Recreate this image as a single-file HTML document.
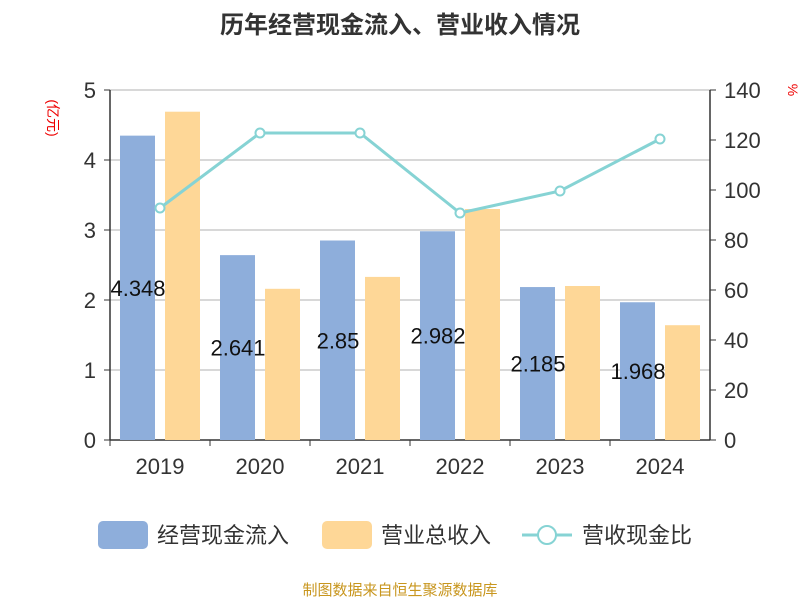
<!DOCTYPE html>
<html><head><meta charset="utf-8"><style>
body{margin:0;background:#fff;}
svg text{font-family:"Liberation Sans","Noto Sans CJK SC",sans-serif;}
</style></head><body>
<svg id="chart" width="800" height="600" xmlns="http://www.w3.org/2000/svg">
<text x="400" y="33" text-anchor="middle" font-size="24" font-weight="bold" fill="#333">历年经营现金流入、营业收入情况</text>
<text x="48" y="118" font-size="14" fill="#e00" transform="rotate(90 48 118)" text-anchor="middle">(亿元)</text>
<text x="788" y="90" font-size="14" fill="#e00" transform="rotate(90 788 90)" text-anchor="middle">%</text>
<g id="grid"></g><g id="bars1"></g><g id="labels"></g><g id="bars2"></g><g id="axes"></g><g id="line"></g>
<g>
<rect x="98" y="521" width="50" height="28" rx="5" fill="#8eaedb"/>
<text x="157" y="543" font-size="22" fill="#333">经营现金流入</text>
<rect x="322" y="521" width="50" height="28" rx="5" fill="#fed797"/>
<text x="381" y="543" font-size="22" fill="#333">营业总收入</text>
<line x1="522" y1="535" x2="572" y2="535" stroke="#86d3d4" stroke-width="3"/>
<circle cx="547" cy="535" r="9" fill="#fff" stroke="#86d3d4" stroke-width="2"/>
<text x="582" y="543" font-size="22" fill="#333">营收现金比</text>
</g>
<text x="400" y="595" text-anchor="middle" font-size="15" fill="#c8961e">制图数据来自恒生聚源数据库</text>
</svg>
<script>
const categories=["2019","2020","2021","2022","2023","2024"];
const cashInflow=[4.348,2.641,2.85,2.982,2.185,1.968];
const revenue=[4.69,2.16,2.33,3.3,2.2,1.64];
const ratio=[92.8,122.8,122.8,90.8,99.6,120.4];
const leftTicks=[0,1,2,3,4,5];
const rightTicks=[0,20,40,60,80,100,120,140];
const NS="http://www.w3.org/2000/svg";
const X0=110,X1=710,Y0=440,Y1=90;
const band=(X1-X0)/categories.length;
const xc=i=>X0+band*(i+0.5);
const yL=v=>Y0-(v/5)*(Y0-Y1);
const yR=v=>Y0-(v/140)*(Y0-Y1);
function mk(tag,attrs,parent,txt){const e=document.createElementNS(NS,tag);for(const k in attrs)e.setAttribute(k,attrs[k]);if(txt!==undefined)e.textContent=txt;document.getElementById(parent).appendChild(e);return e;}
leftTicks.forEach(t=>{
 const g=mk('line',{x1:X0,x2:X1,y1:yL(t),y2:yL(t),stroke:t===0?'#333':'#ccc','stroke-width':t===0?1.5:1.5},'grid');
 
 
 const l=mk('text',{x:X0-14,y:yL(t)+8,'text-anchor':'end','font-size':22,fill:'#333'},'axes',String(t));
 
 
 const tk=mk('line',{x1:X0-6,x2:X0,y1:yL(t),y2:yL(t),stroke:'#333'},'axes');
 
 
});
rightTicks.forEach(t=>{
 const l=mk('text',{x:X1+14,y:yR(t)+8,'font-size':22,fill:'#333'},'axes',String(t));
 
 
 const tk=mk('line',{x1:X1,x2:X1+6,y1:yR(t),y2:yR(t),stroke:'#333'},'axes');
 
 
});
[[X0,'left-axis-line'],[X1,'right-axis-line']].forEach(([x,n])=>{
 const a=mk('line',{x1:x,x2:x,y1:Y1,y2:Y0,stroke:'#333','stroke-width':1.5},'axes');
 
 
});
categories.forEach((c,i)=>{
 const l=mk('text',{x:xc(i),y:Y0+34,'text-anchor':'middle','font-size':22,fill:'#333'},'axes',c);
 
 
 const tk=mk('line',{x1:X0+band*i,x2:X0+band*i,y1:Y0,y2:Y0+6,stroke:'#333'},'axes');
 
 
 const b1=mk('rect',{x:xc(i)-40,y:yL(cashInflow[i]),width:35,height:Y0-yL(cashInflow[i]),fill:'#8eaedb'},'bars1');
 
 
 const v=mk('text',{x:xc(i)-22,y:(yL(cashInflow[i])+Y0)/2+8,'text-anchor':'middle','font-size':22,fill:'#111'},'labels',String(cashInflow[i]));
 
 
 const b2=mk('rect',{x:xc(i)+5,y:yL(revenue[i]),width:35,height:Y0-yL(revenue[i]),fill:'#fed797'},'bars2');
 
 
});
const pl=mk('polyline',{points:ratio.map((r,i)=>xc(i)+','+yR(r)).join(' '),fill:'none',stroke:'#86d3d4','stroke-width':3},'line');


ratio.forEach((r,i)=>{
 const p=mk('circle',{cx:xc(i),cy:yR(r),r:4.5,fill:'#fff',stroke:'#86d3d4','stroke-width':2},'line');
 
 
});
</script>
</body></html>
